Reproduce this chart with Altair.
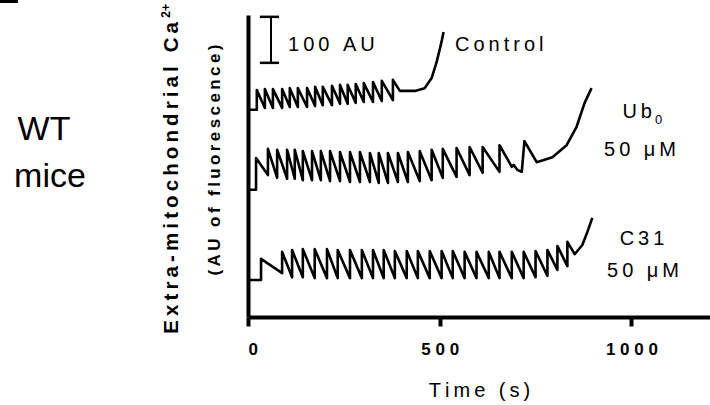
import altair as alt
import pandas as pd

FONT = "Liberation Sans"

# ---------------- data (time in s, fluorescence in AU) ----------------
# Control trace
ctrl_start = (3, 457)
ctrl_t = [23, 44, 65, 89, 109, 130, 154, 175, 195, 219, 240, 260, 281, 302, 326, 349, 378]
ctrl_peak = [500, 502, 502, 502, 504, 504, 504, 507, 507, 509, 511, 511, 513, 515, 517, 520, 522]
ctrl_trough = [457, 461, 461, 461, 463, 463, 463, 465, 467, 467, 470, 470, 472, 474, 474, 476, 478]
ctrl_tail_t = [396, 435, 461, 479, 492, 503, 510]
ctrl_tail_v = [498, 498, 504, 526, 561, 598, 626]

# Ub0 50 uM trace
ub_start = (3, 283)
ub_t = [21, 52, 76, 102, 122, 143, 167, 190, 214, 240, 266, 292, 318, 341, 365, 391,
        417, 448, 479, 508, 544, 578, 612, 656]
ub_peak = [352, 372, 370, 370, 370, 367, 367, 367, 367, 365, 365, 365, 363, 363, 363, 363,
           365, 367, 370, 372, 374, 376, 376, 380]
ub_trough = [283, 315, 309, 307, 307, 304, 304, 304, 302, 302, 300, 300, 300, 298, 298, 300,
             300, 302, 304, 309, 311, 315, 320, 322]
ub_tail_t = [688, 693, 703, 714, 721, 753, 794, 831, 857, 878, 896]
ub_tail_v = [333, 337, 326, 322, 389, 343, 354, 380, 420, 472, 504]

# C31 50 uM trace
c31_start = (3, 87)
c31_t = [34, 89, 115, 143, 174, 206, 234, 266, 297, 326, 354, 383, 414, 443, 474, 505,
         534, 565, 596, 628, 656, 688, 719, 750, 781, 807, 833]
c31_peak = [133, 148, 152, 154, 154, 154, 152, 152, 152, 152, 152, 150, 150, 150, 150, 150,
            150, 148, 148, 148, 148, 148, 148, 150, 152, 161, 170]
c31_trough = [87, 102, 93, 93, 91, 91, 91, 91, 91, 91, 91, 91, 91, 91, 91, 91,
              91, 91, 91, 91, 91, 91, 91, 93, 96, 109, 117]
c31_tail_t = [852, 872, 885, 898]
c31_tail_v = [143, 163, 191, 222]

# 100 AU scale bar
bar_t = [60]
bar_lo = [559]
bar_hi = [659]
bar_cap_t = [31, 81]

x_ticks = [0, 500, 1000]


def build(name, start, ts, peaks, troughs, tail_t, tail_v):
    rows = [(start[0], start[1])]
    for t, p, tr in zip(ts, peaks, troughs):
        rows.append((t, tr))
        rows.append((t, p))
    rows += list(zip(tail_t, tail_v))
    return pd.DataFrame({"trace": name, "order": range(len(rows)),
                         "t": [r[0] for r in rows], "v": [r[1] for r in rows]})


df = pd.concat([
    build("Control", ctrl_start, ctrl_t, ctrl_peak, ctrl_trough, ctrl_tail_t, ctrl_tail_v),
    build("Ub0", ub_start, ub_t, ub_peak, ub_trough, ub_tail_t, ub_tail_v),
    build("C31", c31_start, c31_t, c31_peak, c31_trough, c31_tail_t, c31_tail_v),
], ignore_index=True)


def spaced(s, sep="\u2009"):
    return sep.join(s)


xscale = alt.Scale(domain=[0, 1205], nice=False)
yscale = alt.Scale(domain=[6.5, 663], zero=False, nice=False)

lines = alt.Chart(df).mark_line(color="black", strokeWidth=2.6, strokeJoin="round").encode(
    x=alt.X("t:Q", scale=xscale,
            axis=alt.Axis(values=x_ticks, title=spaced("Time (s)"), grid=False,
                          domainColor="black", domainWidth=4, tickColor="black",
                          tickWidth=4, tickSize=9, labelPadding=15,
                          labelFont=FONT, labelFontSize=17, labelFontWeight="bold",
                          labelColor="black",
                          labelExpr="join(split(format(datum.value, 'd'), ''), ' ')",
                          titleFont=FONT, titleFontSize=20, titleFontWeight="normal",
                          titleColor="black", titleBaseline="alphabetic", titleY=79)),
    y=alt.Y("v:Q", scale=yscale,
            axis=alt.Axis(labels=False, ticks=False, title=None, grid=False,
                          domainColor="black", domainWidth=4)),
    detail="trace:N",
    order="order:Q",
)

bar_df = pd.DataFrame({"t": bar_t, "lo": bar_lo, "hi": bar_hi})
cap_df = pd.DataFrame({"t0": [bar_cap_t[0]] * 2, "t1": [bar_cap_t[1]] * 2,
                       "v": [bar_lo[0], bar_hi[0]]})
bar = alt.Chart(bar_df).mark_rule(color="black", strokeWidth=2).encode(
    x=alt.X("t:Q", scale=xscale), y=alt.Y("lo:Q", scale=yscale), y2="hi:Q")
caps = alt.Chart(cap_df).mark_rule(color="black", strokeWidth=2.5).encode(
    x=alt.X("t0:Q", scale=xscale), x2="t1:Q", y=alt.Y("v:Q", scale=yscale))

one = alt.Data(values=[{"k": 1}])


def label(text, x, y, size, weight="normal", align="left", angle=0):
    return alt.Chart(one).mark_text(
        text=text, font=FONT, fontSize=size, fontWeight=weight, align=align,
        baseline="middle", angle=angle, color="black").encode(
        x=alt.value(x), y=alt.value(y))


texts = [
    label(spaced("Control"), 207, 30, 20),
    label(spaced("100 AU"), 40, 30, 20),
    label(spaced("Ub"), 404, 97, 20, align="right"),
    label("0", 407, 105, 13),
    label(spaced("50 μM"), 392, 135, 20, align="center"),
    label(spaced("C31"), 394, 224, 20, align="center"),
    label(spaced("50 μM"), 395, 256, 20, align="center"),
    label("WT", -204, 114.5, 34, align="center"),
    label("mice", -198, 161.5, 34, align="center"),
    label(spaced("Extra-mitochondrial Ca"), -76.5, 7, 20.5, weight="bold", align="right", angle=270),
    label("2+", -82, 3, 12.5, weight="bold", align="left", angle=270),
    label(spaced("(AU of fluorescence)"), -33, 145, 17, weight="bold", align="center", angle=270),
]

corner = alt.Chart(one).mark_rect(color="black").encode(
    x=alt.value(-248), x2=alt.value(-230), y=alt.value(-15), y2=alt.value(-12))

chart = alt.layer(lines, bar, caps, corner, *texts).properties(
    width=462, height=302,
    autosize=alt.AutoSizeParams(type="none"),
    padding={"left": 248, "top": 15, "right": 0, "bottom": 88},
    background="white",
).configure_view(stroke=None)

chart.save("out.html", embed_options={"renderer": "svg", "actions": False})
